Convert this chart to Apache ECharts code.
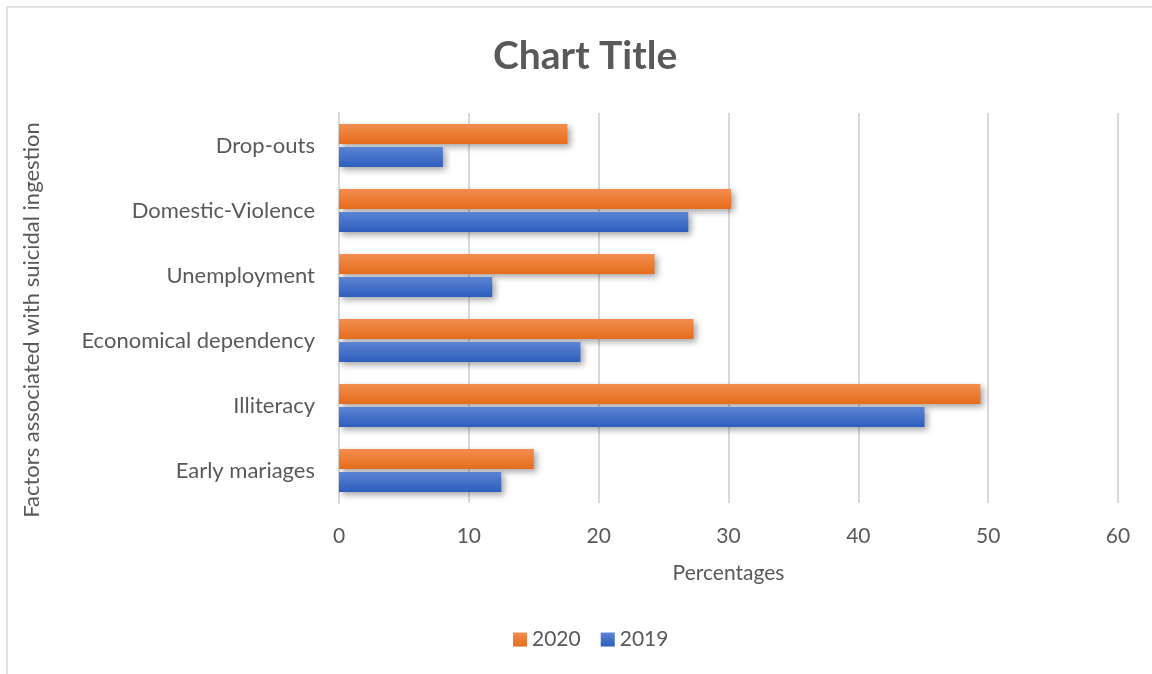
<!DOCTYPE html>
<html><head><meta charset="utf-8">
<script src="https://cdn.jsdelivr.net/npm/echarts@6/dist/echarts.min.js"></script>
<style>html,body{margin:0;padding:0;background:#fff}#c{width:1152px;height:674px}</style>
</head><body><div id="c"></div>
<script>
var categories = ['Early mariages','Illiteracy','Economical dependency','Unemployment','Domestic-Violence','Drop-outs'];
var values2019 = [12.5, 45.1, 18.6, 11.8, 26.9, 8.0];
var values2020 = [15.0, 49.4, 27.3, 24.3, 30.2, 17.6];
var xTicks = {min: 0, max: 60, interval: 10};
var seriesNames = ['2020', '2019'];

var FONT = 'Lato';
var TXT = '#595959';
function grad(top, bottom){
  return new echarts.graphic.LinearGradient(0,0,0,1,[{offset:0,color:top},{offset:1,color:bottom}]);
}
var chart = echarts.init(document.getElementById('c'));
chart.setOption({
  animation: false,
  textStyle: {fontFamily: FONT},
  title: {text: 'Chart Title', left: 493, top: 37, padding: 0,
    textStyle: {fontFamily: FONT, fontSize: 39, fontWeight: 'bold', color: TXT}},
  graphic: [
    {type: 'rect', shape: {x: 7, y: 7, width: 1200, height: 700}, style: {fill: 'none', stroke: '#d9d9d9', lineWidth: 1.5}, silent: true, z: -10},
    {type: 'text', x: 32, y: 320, rotation: Math.PI/2,
      style: {text: 'Factors associated with suicidal ingestion', font: '22px Lato', fill: TXT, align: 'center', verticalAlign: 'middle'}}
  ],
  legend: {data: seriesNames, bottom: 19, left: 508, icon: 'rect', itemWidth: 14, itemHeight: 14, itemGap: 20,
    textStyle: {fontFamily: FONT, fontSize: 21, color: TXT}},
  grid: {left: 339, right: 34, top: 113, bottom: 171, containLabel: false},
  xAxis: {type: 'value', min: xTicks.min, max: xTicks.max, interval: xTicks.interval,
    name: 'Percentages', nameLocation: 'middle', nameGap: 60,
    nameTextStyle: {fontFamily: FONT, fontSize: 21, color: TXT},
    axisLine: {show: false}, axisTick: {show: false},
    axisLabel: {fontFamily: FONT, fontSize: 21, color: TXT, margin: 23},
    splitLine: {lineStyle: {color: '#d9d9d9', width: 2}}},
  yAxis: {type: 'category', data: categories,
    axisLine: {lineStyle: {color: '#d9d9d9', width: 2}}, axisTick: {show: false},
    axisLabel: {fontFamily: FONT, fontSize: 22, color: TXT, margin: 24}},
  series: [
    {name: '2020', type: 'bar', data: values2020, barWidth: 20, barGap: '15%',
      itemStyle: {color: grad('#F38E50', '#E56C1B'), shadowColor: 'rgba(0,0,0,0.35)', shadowBlur: 6, shadowOffsetX: 3, shadowOffsetY: 3}},
    {name: '2019', type: 'bar', data: values2019, barWidth: 20, barGap: '15%',
      itemStyle: {color: grad('#5B84D3', '#2D5EBD'), shadowColor: 'rgba(0,0,0,0.35)', shadowBlur: 6, shadowOffsetX: 3, shadowOffsetY: 3}}
  ]
});
</script></body></html>
